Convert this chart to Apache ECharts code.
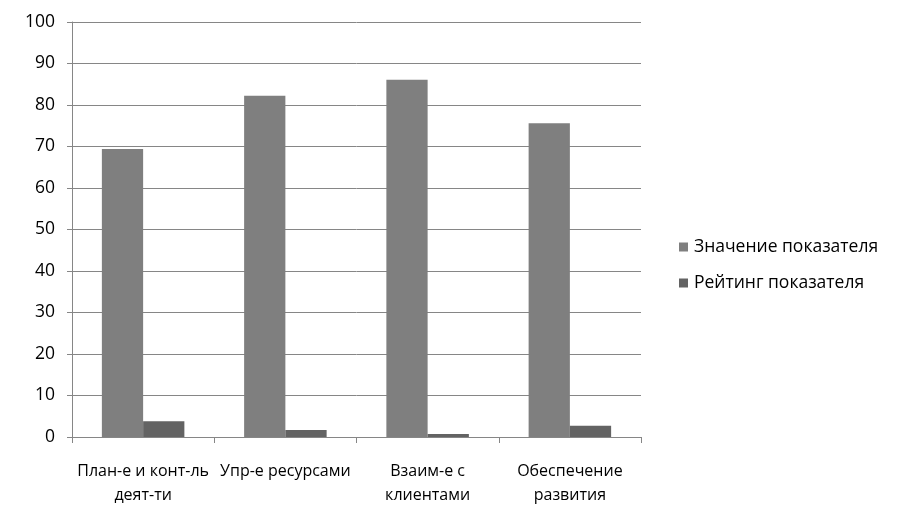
<!DOCTYPE html>
<html><head><meta charset="utf-8">
<script src="https://cdn.jsdelivr.net/npm/echarts@6/dist/echarts.min.js"></script>
<style>html,body{margin:0;padding:0;background:#fff}#c{width:899px;height:524px}</style>
</head><body><div id="c"></div>
<script>
var categories = ["План-е и конт-ль\nдеят-ти", "Упр-е ресурсами", "Взаим-е с\nклиентами", "Обеспечение\nразвития"];
var seriesNames = ["Значение показателя", "Рейтинг показателя"];
var values = [69.4, 82.2, 86.1, 75.6];
var ratings = [3.8, 1.7, 0.7, 2.7];
var yTicks = {min: 0, max: 100, interval: 10};

var chart = echarts.init(document.getElementById('c'));
var font = "'Open Sans', 'Noto Sans', sans-serif";
chart.setOption({
  animation: false,
  backgroundColor: '#fff',
  textStyle: {fontFamily: font},
  grid: {left: 72, right: 258, top: 22, bottom: 87, containLabel: false},
  legend: {
    orient: 'vertical', left: 674, top: 233,
    itemWidth: 9, itemHeight: 9, itemGap: 18,
    icon: 'rect',
    textStyle: {fontFamily: font, fontSize: 17.5, color: '#000', padding: [0,0,0,1]},
    data: seriesNames
  },
  xAxis: {
    type: 'category', data: categories,
    axisLine: {lineStyle: {color: '#868686', width: 1}},
    axisTick: {show: true, length: 6, lineStyle: {color: '#868686'}},
    axisLabel: {fontFamily: font, fontSize: 16, color: '#000', margin: 22, lineHeight: 24, interval: 0}
  },
  yAxis: {
    type: 'value', min: yTicks.min, max: yTicks.max, interval: yTicks.interval,
    axisLine: {show: true, lineStyle: {color: '#868686', width: 1}},
    axisTick: {show: true, length: 5, lineStyle: {color: '#868686'}},
    splitLine: {lineStyle: {color: '#868686', width: 1}},
    axisLabel: {fontFamily: font, fontSize: 17.5, color: '#000', margin: 17}
  },
  series: [
    {name: seriesNames[0], type: 'bar', data: values, barGap: '0%', barCategoryGap: '42%', itemStyle: {color: '#7f7f7f'}},
    {name: seriesNames[1], type: 'bar', data: ratings, itemStyle: {color: '#636363'}}
  ]
});
</script></body></html>
